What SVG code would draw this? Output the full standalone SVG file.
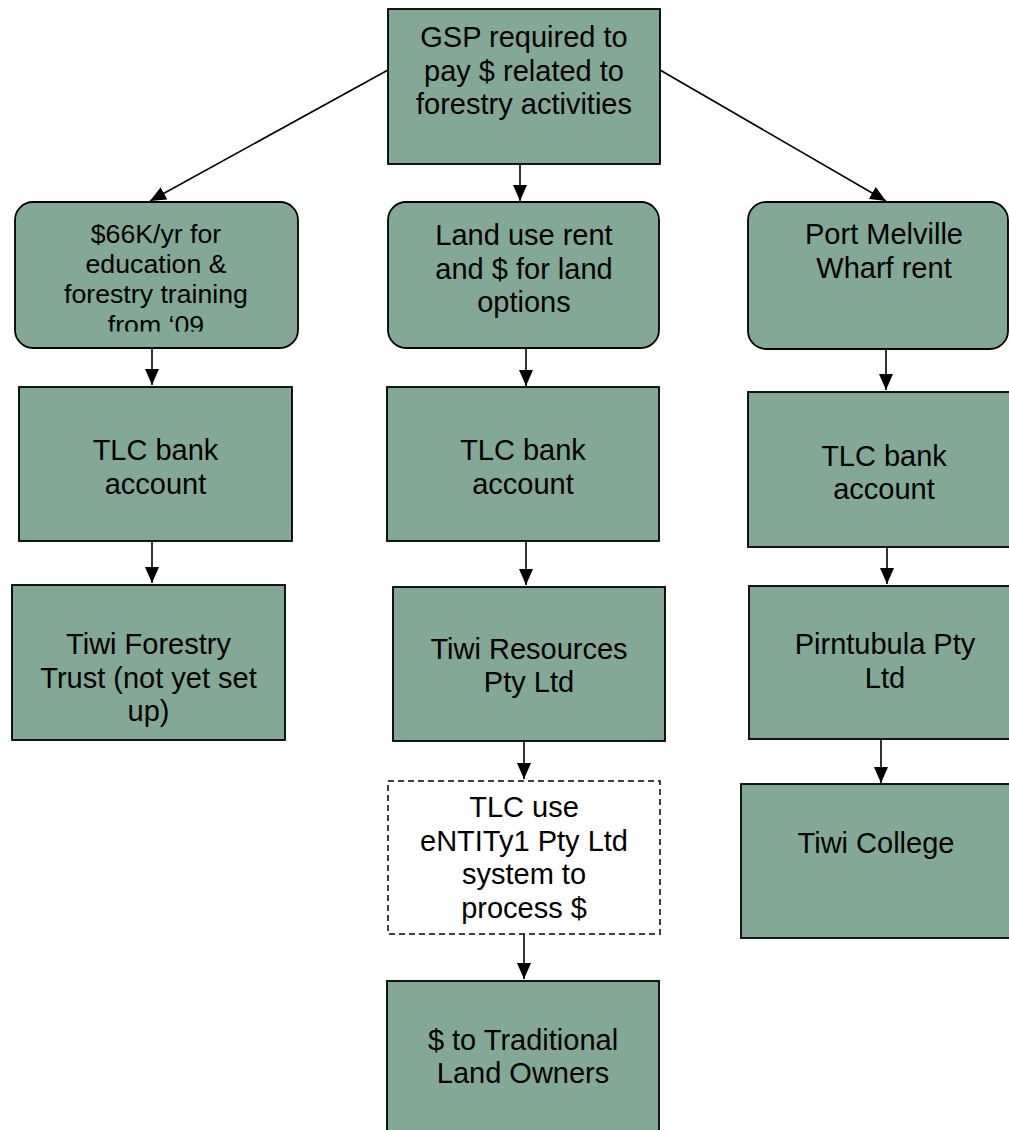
<svg xmlns="http://www.w3.org/2000/svg" width="1009" height="1130" viewBox="0 0 1009 1130">
<style>
.box{fill:#83A996;stroke:#000;stroke-width:1.8}
.dash{fill:#fff;stroke:#000;stroke-width:1.5;stroke-dasharray:6 4}
.t{font-family:"Liberation Sans",Arial,sans-serif;font-size:29px;fill:#000;text-anchor:middle}
.s{font-size:26.7px}
.c{fill:none;stroke:#000;stroke-width:1.6}
</style>
<defs>
<marker id="ah" markerUnits="userSpaceOnUse" markerWidth="16" markerHeight="14" refX="16" refY="7" orient="auto">
<path d="M0,0 L16,7 L0,14 z" fill="#000"/>
</marker>
<clipPath id="clip66"><rect x="15" y="202" width="283" height="129.5"/></clipPath>
</defs>
<rect width="1009" height="1130" fill="#fff"/>
<g id="connectors">
<line class="c" x1="388" y1="70" x2="150" y2="201" marker-end="url(#ah)"/>
<line class="c" x1="660" y1="70" x2="886" y2="201" marker-end="url(#ah)"/>
<line class="c" x1="520" y1="164" x2="520" y2="201" marker-end="url(#ah)"/>
<line class="c" x1="152" y1="348" x2="152" y2="385" marker-end="url(#ah)"/>
<line class="c" x1="152" y1="541" x2="152" y2="583" marker-end="url(#ah)"/>
<line class="c" x1="526" y1="348" x2="526" y2="386" marker-end="url(#ah)"/>
<line class="c" x1="526" y1="541" x2="526" y2="585" marker-end="url(#ah)"/>
<line class="c" x1="524" y1="741" x2="524" y2="779" marker-end="url(#ah)"/>
<line class="c" x1="524" y1="934" x2="524" y2="979" marker-end="url(#ah)"/>
<line class="c" x1="886" y1="349" x2="886" y2="390" marker-end="url(#ah)"/>
<line class="c" x1="887" y1="547" x2="887" y2="584" marker-end="url(#ah)"/>
<line class="c" x1="881" y1="739" x2="881" y2="783" marker-end="url(#ah)"/>
</g>
<g id="gsp">
<rect class="box" x="388" y="9" width="272" height="155"/>
<text class="t" x="524"><tspan x="524" y="47">GSP required to</tspan><tspan x="524" y="80.5">pay $ related to</tspan><tspan x="524" y="114">forestry activities</tspan></text>
</g>
<g id="edu">
<rect class="box" x="15" y="202" width="283" height="146" rx="18"/>
<text class="t s" clip-path="url(#clip66)"><tspan x="156" y="243">$66K/yr for</tspan><tspan x="156" y="273">education &amp;</tspan><tspan x="156" y="303">forestry training</tspan><tspan x="156" y="334">from ‘09</tspan></text>
</g>
<g id="landuse">
<rect class="box" x="388" y="202" width="271" height="146" rx="18"/>
<text class="t"><tspan x="524" y="245">Land use rent</tspan><tspan x="524" y="278.5">and $ for land</tspan><tspan x="524" y="312">options</tspan></text>
</g>
<g id="wharf">
<rect class="box" x="748" y="202" width="260" height="147" rx="18"/>
<text class="t"><tspan x="884" y="244">Port Melville</tspan><tspan x="884" y="277.5">Wharf rent</tspan></text>
</g>
<g id="tlc1">
<rect class="box" x="19" y="387" width="273" height="154"/>
<text class="t"><tspan x="155.5" y="460">TLC bank</tspan><tspan x="155.5" y="494">account</tspan></text>
</g>
<g id="tlc2">
<rect class="box" x="387" y="387" width="272" height="154"/>
<text class="t"><tspan x="523" y="460">TLC bank</tspan><tspan x="523" y="494">account</tspan></text>
</g>
<g id="tlc3">
<rect class="box" x="748" y="392" width="272" height="155"/>
<text class="t"><tspan x="884" y="466">TLC bank</tspan><tspan x="884" y="499">account</tspan></text>
</g>
<g id="trust">
<rect class="box" x="12" y="585" width="273" height="155"/>
<text class="t"><tspan x="148.5" y="654">Tiwi Forestry</tspan><tspan x="148.5" y="687.5">Trust (not yet set</tspan><tspan x="148.5" y="721">up)</tspan></text>
</g>
<g id="resources">
<rect class="box" x="393" y="587" width="272" height="154"/>
<text class="t"><tspan x="529" y="658.5">Tiwi Resources</tspan><tspan x="529" y="692">Pty Ltd</tspan></text>
</g>
<g id="pirntubula">
<rect class="box" x="749" y="586" width="272" height="153"/>
<text class="t"><tspan x="885" y="654">Pirntubula Pty</tspan><tspan x="885" y="687.5">Ltd</tspan></text>
</g>
<g id="entity">
<rect class="dash" x="388" y="781" width="272" height="153"/>
<text class="t"><tspan x="524" y="817">TLC use</tspan><tspan x="524" y="850.5">eNTITy1 Pty Ltd</tspan><tspan x="524" y="884">system to</tspan><tspan x="524" y="917.5">process $</tspan></text>
</g>
<g id="college">
<rect class="box" x="741" y="784" width="272" height="154"/>
<text class="t"><tspan x="876" y="853">Tiwi College</tspan></text>
</g>
<g id="owners">
<rect class="box" x="387" y="981" width="272" height="160"/>
<text class="t"><tspan x="523" y="1050">$ to Traditional</tspan><tspan x="523" y="1083">Land Owners</tspan></text>
</g>
</svg>
